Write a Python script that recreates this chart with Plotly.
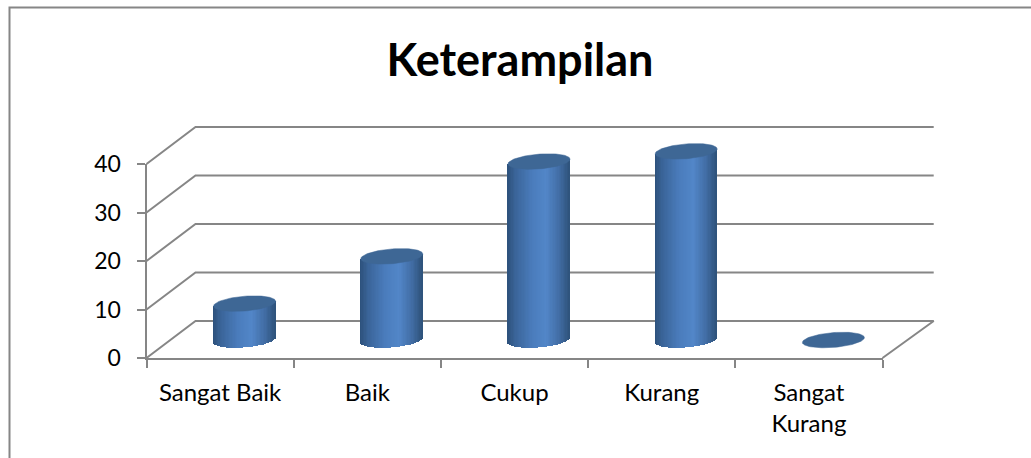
import numpy as np
import plotly.graph_objects as go

categories = ["Sangat Baik", "Baik", "Cukup", "Kurang", "Sangat<br>Kurang"]
values = [7.5, 17.25, 36.8, 38.9, 0]
y_ticks = [0, 10, 20, 30, 40]
title_text = "Keterampilan"

W, H = 1031, 458
GRID = "#868686"
X0, X1 = 146.5, 882.5      # pixel extent of the front x axis
Y0, Y40 = 358, 164         # pixel extent of the front y axis
px_x = (X1 - X0) / len(categories)
px_y = (Y0 - Y40) / 40
DX = 49 / px_x             # depth offset of the back wall, data units
DY = 37 / px_y
WALL_END = 0.015           # small extra length of the back wall
CX = DX / 2 + 0.5          # cylinder centre inside a category
CY = 18 / px_y
A = 31 / px_x              # ellipse half width
B = 7.4 / px_y             # ellipse half height
TILT = 2.4 / px_y          # ellipse lean
N = 46
STOPS = [(-1.0, (44, 80, 122)), (-0.75, (58, 100, 152)), (-0.2, (74, 124, 188)), (0.25, (82, 134, 200)),
         (0.65, (66, 110, 166)), (1.0, (46, 82, 122))]


def strip_color(u):
    xs = [s[0] for s in STOPS]
    rgb = [np.interp(u, xs, [s[1][k] for s in STOPS]) for k in range(3)]
    return "rgb(%d,%d,%d)" % tuple(int(round(c)) for c in rgb)


fig = go.Figure()

# Back wall, side wall and floor lines: wide hidden axes, so nothing is clipped
for v in y_ticks:
    xs = [0, DX, len(categories) + DX + WALL_END]
    ys = [v, v + DY, v + DY]
    if v == 0:
        xs = xs + [len(categories)]
        ys = ys + [0]
    fig.add_trace(go.Scatter(x=xs, y=ys, mode="lines", hoverinfo="skip",
                             line=dict(color=GRID, width=2), showlegend=False))

# Cylinders, on an overlaid pair of axes so they sit above the wall lines
bx, bbase, by, bcol = [], [], [], []
us = (np.arange(N) + 0.5) / N * 2 - 1
for i, v in enumerate(values):
    if v <= 0:
        continue
    for u in us:
        bottom = CY + TILT * u - B * np.sqrt(1 - u * u)
        top = CY + v + TILT * u
        bx.append(i + CX + A * u)
        bbase.append(bottom)
        by.append(top - bottom)
        bcol.append(strip_color(u))
fig.add_trace(go.Bar(x=bx, y=by, base=bbase, width=2 * A / N * 1.25, xaxis="x2", yaxis="y2",
                     marker=dict(color=bcol, line=dict(width=0)),
                     hoverinfo="skip", showlegend=False))

t = np.linspace(0, 2 * np.pi, 90)
for i, v in enumerate(values):
    fig.add_trace(go.Scatter(x=i + CX + A * np.cos(t),
                             y=CY + v + TILT * np.cos(t) + B * np.sin(t),
                             mode="lines", fill="toself", fillcolor="#3e6795",
                             line=dict(color="#3e6795", width=0.5),
                             xaxis="x2", yaxis="y2", hoverinfo="skip", showlegend=False))

# Visible axes: exact front extent, carrying lines, ticks and labels
fig.add_trace(go.Scatter(x=[0], y=[0], mode="none", xaxis="x3", yaxis="y3",
                         hoverinfo="skip", showlegend=False))

wide_px_x = [130, 950]
wide_px_y = [372, 110]
wide_x_range = [(p - X0) / px_x for p in wide_px_x]
wide_y_range = [(Y0 - p) / px_y for p in wide_px_y]
wide_x_dom = [p / W for p in wide_px_x]
wide_y_dom = [1 - p / H for p in wide_px_y]
x_dom = [X0 / W, X1 / W]
y_dom = [1 - Y0 / H, 1 - Y40 / H]
x_range = [0, len(categories)]
y_range = [0, 40]
font_x = dict(family="Lato, Open Sans, sans-serif", size=24, color="#000000")
font_y = dict(family="Lato, Open Sans, sans-serif", size=23, color="#000000")

fig.update_layout(
    width=W, height=H, margin=dict(l=0, r=0, t=0, b=0, autoexpand=False), autosize=False,
    paper_bgcolor="white", plot_bgcolor="rgba(0,0,0,0)", bargap=0, barmode="overlay",
    title=dict(text="<b>%s</b>" % title_text, x=520 / W, xanchor="center", y=1 - 60 / H, yanchor="middle",
               font=dict(family="Lato, Open Sans, sans-serif", size=45, color="#000000")),
    xaxis=dict(domain=wide_x_dom, range=wide_x_range, visible=False),
    yaxis=dict(domain=wide_y_dom, range=wide_y_range, visible=False),
    xaxis2=dict(range=wide_x_range, overlaying="x", visible=False),
    yaxis2=dict(range=wide_y_range, overlaying="y", visible=False),
    xaxis3=dict(domain=x_dom, range=x_range, anchor="y3", showgrid=False, zeroline=False, showline=True,
                linecolor=GRID, linewidth=2, tickvals=[i + 0.5 for i in range(len(categories))],
                ticktext=categories, ticks="", tickfont=font_x, ticklabelstandoff=12, tickangle=0,
                minor=dict(tickvals=list(range(len(categories) + 1)), ticks="outside", ticklen=8,
                           tickcolor=GRID, tickwidth=2, showgrid=False)),
    yaxis3=dict(domain=y_dom, range=y_range, anchor="x3", showgrid=False, zeroline=False, showline=True,
                linecolor=GRID, linewidth=2, tickvals=y_ticks, ticks="outside", ticklen=8,
                tickcolor=GRID, tickwidth=2, tickfont=font_y, ticklabelstandoff=11),
    shapes=[dict(type="rect", xref="paper", yref="paper", x0=9.5 / W, x1=1 + 40 / W, y0=-40 / H, y1=1 - 7.5 / H,
                 line=dict(color=GRID, width=2), fillcolor="rgba(0,0,0,0)", layer="below")],
)
fig.write_html("out.html", config={"displayModeBar": False},
               post_script="document.body.style.margin='0';document.body.style.overflow='hidden';")
